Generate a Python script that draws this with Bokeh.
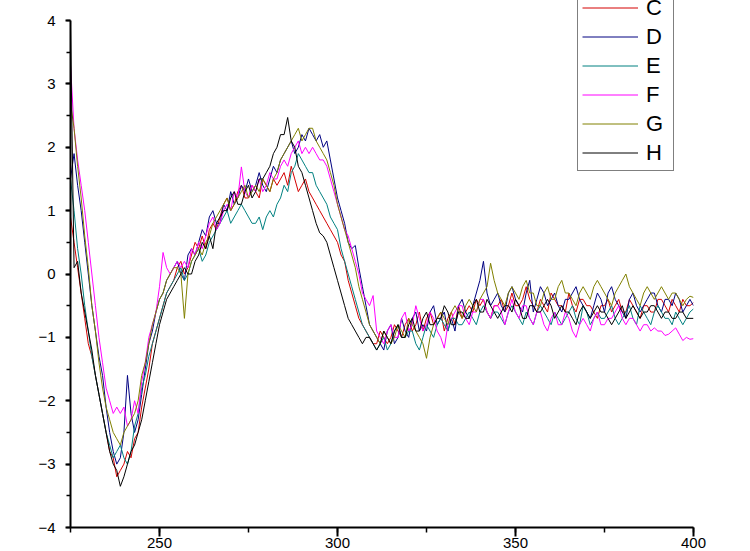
from bokeh.plotting import figure
from bokeh.models import SingleIntervalTicker, Legend, LegendItem, Range1d
from bokeh.embed import file_html
from bokeh.resources import INLINE

wavelength = list(range(225, 401))

C = [0.9, 0.5, 0.1, -0.3, -0.7, -1.1, -1.3, -1.6, -1.9, -2.2,
     -2.5, -2.8, -2.9, -3.2, -3.1, -3.0, -2.8, -2.9, -2.6, -2.5,
     -2.1, -1.8, -1.5, -1.1, -0.9, -0.7, -0.5, -0.3, -0.2, -0.1,
     0.1, 0.2, 0.0, 0.1, 0.3, 0.5, 0.4, 0.6, 0.4, 0.7,
     0.8, 0.7, 0.9, 1.1, 1.2, 1.0, 1.1, 1.3, 1.4, 1.2,
     1.2, 1.4, 1.3, 1.2, 1.5, 1.4, 1.3, 1.5, 1.4, 1.5,
     1.6, 1.4, 1.7, 1.5, 1.3, 1.4, 1.5, 1.3, 1.2, 1.1,
     1.0, 0.9, 0.8, 0.7, 0.6, 0.5, 0.3, 0.2, -0.1, -0.3,
     -0.5, -0.7, -0.8, -0.9, -1.0, -1.1, -1.1, -0.9, -1.0, -1.1,
     -1.0, -0.8, -0.9, -1.0, -0.8, -0.7, -0.9, -0.8, -0.6, -0.9,
     -0.7, -0.6, -0.8, -0.7, -0.6, -0.9, -0.7, -0.6, -0.8, -0.5,
     -0.7, -0.6, -0.5, -0.6, -0.4, -0.5, -0.4, -0.6, -0.7, -0.5,
     -0.5, -0.4, -0.6, -0.5, -0.3, -0.5, -0.5, -0.4, -0.2, -0.4,
     -0.5, -0.6, -0.4, -0.5, -0.6, -0.3, -0.4, -0.5, -0.5, -0.6,
     -0.3, -0.5, -0.6, -0.4, -0.4, -0.5, -0.5, -0.6, -0.7, -0.5,
     -0.5, -0.4, -0.6, -0.5, -0.4, -0.6, -0.6, -0.4, -0.5, -0.6,
     -0.7, -0.5, -0.5, -0.6, -0.6, -0.4, -0.4, -0.5, -0.6, -0.4,
     -0.5, -0.6, -0.4, -0.5, -0.5, -0.45]

D = [1.5, 1.9, 1.4, 1.0, 0.5, 0.0, -0.5, -0.9, -1.3, -1.6,
     -2.1, -2.5, -2.8, -3.0, -2.9, -2.5, -1.6, -2.2, -2.5, -2.3,
     -1.9, -1.5, -1.1, -0.9, -0.6, -0.4, -0.3, -0.1, 0.0, 0.1,
     0.2, 0.0, -0.1, 0.3, 0.4, 0.3, 0.5, 0.7, 0.6, 0.9,
     1.0, 0.8, 0.8, 1.1, 1.0, 1.3, 1.1, 1.2, 1.4, 1.3,
     1.5, 1.3, 1.4, 1.6, 1.4, 1.3, 1.5, 1.7, 1.6, 1.8,
     1.9, 2.0, 2.1, 1.9, 2.0, 2.2, 2.1, 2.3, 2.2, 2.1,
     2.2, 2.0, 2.1, 1.8, 1.5, 1.2, 1.0, 0.8, 0.5, 0.4,
     0.45, 0.1, -0.2, -0.5, -0.8, -0.9, -1.0, -1.1, -1.2, -0.9,
     -0.8, -1.1, -1.0, -0.7, -0.9, -1.0, -0.7, -0.6, -0.9, -0.8,
     -0.9, -0.6, -0.5, -0.8, -0.7, -0.6, -0.9, -0.7, -0.9, -0.5,
     -0.4, -0.6, -0.7, -0.5, -0.3, -0.1, 0.2, -0.3, -0.5, -0.4,
     -0.3, -0.5, -0.6, -0.3, -0.2, -0.4, -0.5, -0.6, -0.3, -0.1,
     -0.6, -0.4, -0.2, -0.3, -0.5, -0.4, -0.3, -0.5, -0.6, -0.4,
     -0.4, -0.3, -0.2, -0.4, -0.5, -0.6, -0.7, -0.5, -0.3, -0.4,
     -0.6, -0.3, -0.2, -0.4, -0.5, -0.6, -0.7, -0.4, -0.3, -0.5,
     -0.6, -0.5, -0.4, -0.3, -0.3, -0.5, -0.6, -0.4, -0.4, -0.5,
     -0.3, -0.4, -0.6, -0.5, -0.4, -0.5]

E = [1.5, 1.0, 0.4, 0.0, -0.5, -0.9, -1.3, -1.6, -1.9, -2.2,
     -2.5, -2.7, -2.9, -2.8, -2.7, -2.9, -3.0, -2.8, -2.4, -2.2,
     -1.8, -1.6, -1.3, -1.1, -0.9, -0.7, -0.5, -0.3, -0.2, -0.1,
     0.0, 0.1, -0.1, 0.0, 0.2, 0.3, 0.4, 0.2, 0.3, 0.5,
     0.6, 0.7, 0.8, 0.9, 1.0, 0.8, 0.9, 1.0, 1.1, 1.0,
     0.9, 0.8, 0.8, 0.9, 0.7, 0.9, 1.0, 0.9, 1.1, 1.2,
     1.4, 1.3, 1.6, 1.7, 1.9, 1.8, 1.7, 1.6, 1.6, 1.4,
     1.3, 1.2, 1.1, 0.9, 0.8, 0.7, 0.4, 0.2, 0.0, -0.2,
     -0.4, -0.6, -0.8, -0.9, -1.0, -1.1, -1.2, -1.1, -1.0, -1.2,
     -1.1, -0.9, -0.8, -1.0, -1.0, -0.9, -0.9, -1.1, -1.2, -1.0,
     -0.8, -0.9, -1.0, -0.8, -0.7, -0.8, -0.9, -0.7, -0.7, -0.8,
     -0.8, -0.7, -0.6, -0.7, -0.8, -0.6, -0.5, -0.6, -0.7, -0.6,
     -0.6, -0.7, -0.8, -0.6, -0.5, -0.6, -0.7, -0.8, -0.6, -0.7,
     -0.8, -0.6, -0.5, -0.6, -0.7, -0.8, -0.6, -0.7, -0.8, -0.7,
     -0.6, -0.5, -0.7, -0.8, -0.5, -0.6, -0.8, -0.7, -0.6, -0.7,
     -0.7, -0.6, -0.5, -0.7, -0.8, -0.7, -0.6, -0.5, -0.7, -0.8,
     -0.5, -0.6, -0.7, -0.8, -0.6, -0.5, -0.6, -0.7, -0.7, -0.8,
     -0.6, -0.7, -0.8, -0.7, -0.6, -0.55]

F = [3.3, 2.3, 1.8, 1.4, 1.0, 0.5, 0.0, -0.5, -1.0, -1.4,
     -1.8, -2.0, -2.2, -2.1, -2.2, -2.1, -2.4, -2.3, -2.0, -2.2,
     -1.7, -1.4, -1.0, -0.8, -0.6, -0.2, 0.34, 0.1, 0.0, 0.1,
     0.2, 0.1, 0.2, 0.1, 0.4, 0.3, 0.5, 0.4, 0.6, 0.8,
     0.9, 0.7, 0.8, 1.0, 1.1, 1.0, 1.3, 1.2, 1.69, 1.3,
     1.2, 1.4, 1.3, 1.5, 1.3, 1.4, 1.6, 1.5, 1.5, 1.7,
     1.8, 1.7, 1.9, 2.0, 2.1, 1.9, 2.0, 1.9, 2.0, 1.9,
     1.8, 1.8, 1.7, 1.5, 1.3, 1.1, 0.9, 0.7, 0.6, 0.4,
     0.2, 0.0, -0.3, -0.4, -0.5, -0.34, -0.9, -1.0, -1.1, -0.9,
     -0.8, -1.0, -1.0, -0.7, -0.6, -0.9, -0.8, -0.5, -0.7, -0.9,
     -0.8, -0.6, -0.7, -0.9, -1.0, -1.17, -0.8, -0.7, -0.6, -0.5,
     -0.5, -0.7, -0.8, -0.6, -0.6, -0.4, -0.4, -0.6, -0.7, -0.5,
     -0.5, -0.6, -0.8, -0.6, -0.4, -0.6, -0.7, -0.5, -0.5, -0.7,
     -0.8, -0.6, -0.6, -0.8, -0.9, -0.7, -0.6, -0.8, -0.8, -0.6,
     -0.7, -0.9, -1.0, -0.8, -0.7, -0.8, -0.9, -0.7, -0.6, -0.8,
     -0.8, -0.7, -0.7, -0.6, -0.5, -0.7, -0.8, -0.7, -0.7, -0.8,
     -0.9, -0.8, -0.8, -0.9, -0.85, -0.9, -0.9, -0.97, -0.95, -0.9,
     -0.85, -0.95, -1.05, -1.0, -1.03, -1.02]

G = [2.7, 2.3, 1.7, 1.2, 0.6, 0.1, -0.5, -0.9, -1.4, -1.8,
     -2.1, -2.3, -2.5, -2.6, -2.7, -2.5, -2.4, -2.3, -2.2, -2.0,
     -1.6, -1.4, -1.1, -0.8, -0.6, -0.4, -0.3, -0.1, 0.0, 0.1,
     0.1, 0.0, -0.7, 0.0, 0.2, 0.3, 0.4, 0.3, 0.5, 0.6,
     0.8, 0.9, 1.0, 1.1, 1.2, 1.0, 1.1, 1.2, 1.3, 1.4,
     1.2, 1.3, 1.4, 1.3, 1.5, 1.4, 1.3, 1.5, 1.6, 1.8,
     1.9, 2.0, 2.1, 2.2, 2.3, 2.1, 2.2, 2.3, 2.3, 2.1,
     2.0, 1.9, 1.8, 1.6, 1.4, 1.1, 0.9, 0.7, 0.5, 0.3,
     0.1, -0.2, -0.4, -0.6, -0.8, -0.9, -1.0, -1.1, -0.9, -1.0,
     -1.1, -1.0, -0.8, -0.9, -1.0, -0.7, -0.8, -0.9, -1.0, -1.1,
     -1.33, -1.0, -0.8, -0.7, -0.6, -0.7, -0.8, -0.6, -0.5, -0.6,
     -0.7, -0.5, -0.4, -0.5, -0.6, -0.4, -0.3, -0.2, 0.17, -0.1,
     -0.3, -0.4, -0.5, -0.3, -0.2, -0.3, -0.4, -0.2, -0.1, -0.3,
     -0.3, -0.5, -0.5, -0.3, -0.2, -0.4, -0.4, -0.2, -0.1, -0.3,
     -0.3, -0.4, -0.5, -0.3, -0.2, -0.3, -0.4, -0.2, -0.1, -0.2,
     -0.3, -0.4, -0.5, -0.3, -0.2, -0.1, 0.0, -0.2, -0.3, -0.4,
     -0.5, -0.3, -0.2, -0.3, -0.4, -0.3, -0.2, -0.3, -0.4, -0.3,
     -0.3, -0.4, -0.5, -0.4, -0.35, -0.37]

H = [3.9, 0.1, 0.2, -0.3, -0.6, -0.9, -1.2, -1.6, -1.9, -2.2,
     -2.5, -2.8, -3.0, -3.1, -3.35, -3.2, -3.0, -2.8, -2.7, -2.5,
     -2.3, -2.0, -1.7, -1.4, -1.1, -0.8, -0.6, -0.4, -0.3, -0.2,
     -0.1, 0.0, 0.1, 0.0, 0.0, 0.2, 0.3, 0.5, 0.4, 0.6,
     0.4, 0.8, 0.9, 1.0, 1.0, 1.2, 1.3, 1.1, 1.1, 1.3,
     1.4, 1.2, 1.3, 1.5, 1.5, 1.6, 1.7, 1.9, 2.0, 2.2,
     2.2, 2.47, 2.1, 2.0, 1.7, 1.6, 1.4, 1.2, 1.0, 0.8,
     0.65, 0.6, 0.5, 0.3, 0.1, -0.1, -0.3, -0.5, -0.7, -0.8,
     -0.9, -1.0, -1.1, -1.0, -1.0, -1.1, -1.2, -1.1, -0.9, -1.0,
     -1.1, -0.9, -0.8, -1.0, -1.0, -0.8, -0.7, -0.9, -0.9, -0.7,
     -0.6, -0.8, -0.8, -0.7, -0.7, -0.5, -0.6, -0.8, -0.8, -0.6,
     -0.6, -0.7, -0.7, -0.5, -0.4, -0.6, -0.6, -0.4, -0.5, -0.6,
     -0.7, -0.6, -0.5, -0.5, -0.6, -0.4, -0.5, -0.7, -0.7, -0.5,
     -0.5, -0.6, -0.6, -0.5, -0.4, -0.5, -0.7, -0.6, -0.5, -0.6,
     -0.6, -0.7, -0.8, -0.6, -0.5, -0.6, -0.7, -0.6, -0.5, -0.6,
     -0.6, -0.7, -0.8, -0.7, -0.6, -0.5, -0.7, -0.6, -0.5, -0.6,
     -0.7, -0.6, -0.6, -0.5, -0.5, -0.6, -0.7, -0.6, -0.6, -0.7,
     -0.7, -0.6, -0.6, -0.7, -0.7, -0.7]

series_names = ["C", "D", "E", "F", "G", "H"]
series_values = [C, D, E, F, G, H]
series_colors = ["#d40000", "#000080", "#008080", "#ff00ff", "#808000", "#000000"]

FONT = "Liberation Sans"

p = figure(width=750, height=551, output_backend="svg", toolbar_location=None,
           x_range=Range1d(225, 400), y_range=Range1d(-4, 4.316),
           min_border_left=70, min_border_right=57, min_border_top=0,
           min_border_bottom=24)
p.outline_line_color = None
p.xgrid.visible = False
p.ygrid.visible = False
p.background_fill_color = "white"
p.border_fill_color = "white"

p.xaxis.ticker = SingleIntervalTicker(interval=50, num_minor_ticks=2)
p.yaxis.ticker = SingleIntervalTicker(interval=1, num_minor_ticks=2)
p.yaxis.bounds = (-4, 4)

for ax in (p.xaxis, p.yaxis):
    ax.axis_line_width = 2
    ax.axis_line_color = "black"
    ax.major_tick_line_width = 2
    ax.minor_tick_line_width = 1.5
    ax.major_tick_line_color = "black"
    ax.minor_tick_line_color = "black"
    ax.major_tick_in = 0
    ax.minor_tick_in = 0
    ax.major_label_text_font = FONT
    ax.major_label_text_font_size = "15px"
    ax.major_label_text_color = "black"

p.xaxis.major_tick_out = 9
p.xaxis.minor_tick_out = 5
p.xaxis.major_label_standoff = 1
p.yaxis.major_tick_out = 5
p.yaxis.minor_tick_out = 4
p.yaxis.major_label_standoff = 10

items = []
for name, ys, col in zip(series_names, series_values, series_colors):
    r = p.line(wavelength, ys, line_color=col, line_width=1)
    items.append(LegendItem(label=name, renderers=[r]))

legend = Legend(items=items, location=(507, 356),
                label_text_font=FONT, label_text_font_size="22px",
                label_text_color="black",
                label_height=27, glyph_height=27, glyph_width=56,
                label_width=23, label_standoff=8, spacing=2, padding=4,
                margin=0, border_line_color="black", border_line_width=1,
                background_fill_color="white", background_fill_alpha=1.0)
p.add_layout(legend)

open("out.html", "w").write(file_html(p, INLINE))
